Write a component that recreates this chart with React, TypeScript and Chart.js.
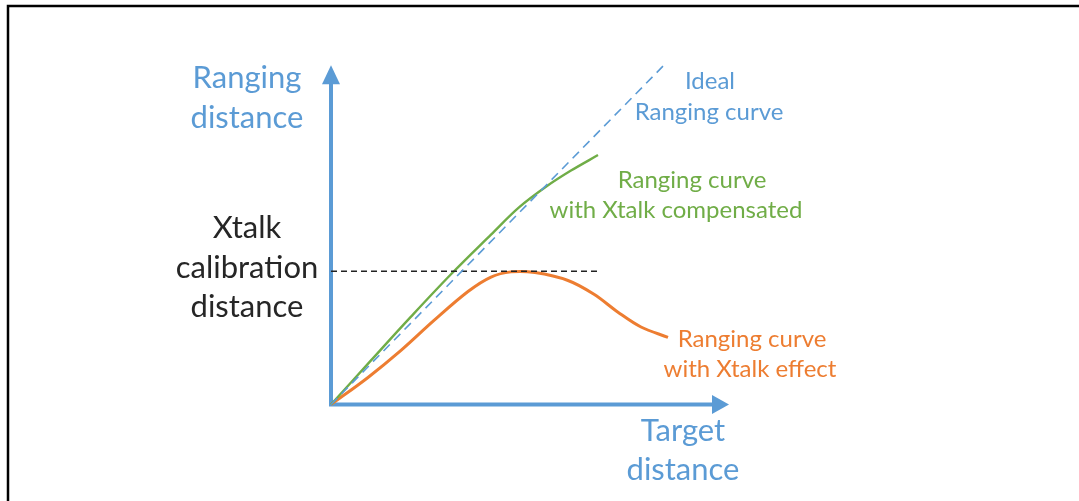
import React, { useEffect, useRef } from "react";
import { Chart, registerables } from "chart.js";

Chart.register(...registerables);

// ---- data (x: target distance, y: ranging distance; arbitrary units 0..100) ----
const idealX = [0, 84];
const idealY = [0, 99.4];
const compX = [0, 10, 20, 30, 40, 47, 54, 60, 66.75];
const compY = [0, 12.8, 25.5, 37.8, 49.3, 57.2, 63.4, 67.9, 72.4];
const effectX = [0, 9.25, 17.5, 25.75, 34.25, 40, 45, 51, 59.25, 65.75, 71.75, 77.5, 84.25];
const effectY = [0, 7.85, 15.7, 24.4, 32.8, 37.0, 38.5, 38.3, 36.0, 32.0, 26.8, 22.5, 19.5];
const calibX = [0, 67];
const calibY = [38.7, 38.7];

const yTitle = ["Ranging", "distance"];
const xTitle = ["Target", "distance"];
const calibLabel = ["Xtalk", "calibration", "distance"];
const idealLabel = ["Ideal", "Ranging curve"];
const compLabel = ["Ranging curve", "with Xtalk compensated"];
const effectLabel = ["Ranging curve", "with Xtalk effect"];

const BLUE = "#5B9BD5";
const GREEN = "#70AD47";
const ORANGE = "#ED7D31";
const DARK = "#262626";

const W = 1079;
const H = 501;

const pts = (xs: number[], ys: number[]) => xs.map((x, i) => ({ x, y: ys[i] }));

type Lbl = { lines: string[]; xs: number[]; ys: number[]; color: string; size: number };
const labels: Lbl[] = [
  { lines: yTitle, xs: [247, 247], ys: [78, 118], color: BLUE, size: 31 },
  { lines: calibLabel, xs: [247, 247, 247], ys: [228, 268, 307], color: DARK, size: 31 },
  { lines: xTitle, xs: [683, 683], ys: [431, 470], color: BLUE, size: 31 },
  { lines: idealLabel, xs: [710, 709], ys: [81, 112], color: BLUE, size: 24 },
  { lines: compLabel, xs: [692, 676], ys: [180, 210], color: GREEN, size: 24 },
  { lines: effectLabel, xs: [752, 750], ys: [339, 369], color: ORANGE, size: 24 },
];

const diagramPlugin = {
  id: "diagram",
  beforeDatasetsDraw(chart: any) {
    const ctx = chart.ctx as CanvasRenderingContext2D;
    const xs = chart.scales.x;
    const ys = chart.scales.y;
    ctx.save();
    // frame
    ctx.strokeStyle = "#000";
    ctx.lineWidth = 2.5;
    ctx.beginPath();
    ctx.moveTo(8, H);
    ctx.lineTo(8, 6);
    ctx.lineTo(W, 6);
    ctx.stroke();

    const ox = xs.getPixelForValue(0);
    const oy = ys.getPixelForValue(0);
    const xTip = xs.getPixelForValue(99.5);
    const yTip = ys.getPixelForValue(98.5);
    ctx.strokeStyle = BLUE;
    ctx.fillStyle = BLUE;
    ctx.lineWidth = 4;
    ctx.lineCap = "butt";
    ctx.beginPath();
    ctx.moveTo(ox, yTip + 12);
    ctx.lineTo(ox, oy);
    ctx.lineTo(xTip - 12, oy);
    ctx.stroke();
    // arrow heads
    ctx.beginPath();
    ctx.moveTo(ox, yTip);
    ctx.lineTo(ox - 9, yTip + 19);
    ctx.lineTo(ox + 9, yTip + 19);
    ctx.closePath();
    ctx.fill();
    ctx.beginPath();
    ctx.moveTo(xTip, oy);
    ctx.lineTo(xTip - 17, oy - 9.5);
    ctx.lineTo(xTip - 17, oy + 9.5);
    ctx.closePath();
    ctx.fill();
    ctx.restore();
  },
  afterDatasetsDraw(chart: any) {
    const ctx = chart.ctx as CanvasRenderingContext2D;
    ctx.save();
    ctx.textAlign = "center";
    ctx.textBaseline = "middle";
    for (const l of labels) {
      ctx.font = `${l.size}px Lato, "Open Sans", sans-serif`;
      ctx.fillStyle = l.color;
      l.lines.forEach((t, i) => ctx.fillText(t, l.xs[i], l.ys[i]));
    }
    ctx.restore();
  },
};

export default function App() {
  const ref = useRef<HTMLCanvasElement>(null);
  useEffect(() => {
    if (!ref.current) return;
    const chart = new Chart(ref.current, {
      type: "line",
      data: {
        datasets: [
          {
            label: "Ideal ranging curve",
            data: pts(idealX, idealY),
            borderColor: BLUE,
            borderWidth: 1.6,
            borderDash: [9, 6],
            pointRadius: 0,
            clip: false as any,
          },
          {
            label: "Xtalk calibration distance",
            data: pts(calibX, calibY),
            borderColor: "#222",
            borderWidth: 1.4,
            borderDash: [6, 4],
            pointRadius: 0,
            clip: false as any,
          },
          {
            label: "Ranging curve with Xtalk compensated",
            data: pts(compX, compY),
            borderColor: GREEN,
            borderWidth: 2.4,
            pointRadius: 0,
            tension: 0.35,
            clip: false as any,
          },
          {
            label: "Ranging curve with Xtalk effect",
            data: pts(effectX, effectY),
            borderColor: ORANGE,
            borderWidth: 3,
            pointRadius: 0,
            tension: 0.35,
            clip: false as any,
          },
        ],
      },
      options: {
        animation: false,
        responsive: false,
        devicePixelRatio: 1,
        layout: { padding: { left: 331, right: W - 731, top: 60, bottom: H - 404.5 } },
        plugins: { legend: { display: false }, tooltip: { enabled: false } },
        scales: {
          x: { type: "linear", min: 0, max: 100, display: false },
          y: { type: "linear", min: 0, max: 100, display: false },
        },
      },
      plugins: [diagramPlugin],
    });
    return () => chart.destroy();
  }, []);
  return (
    <canvas
      ref={ref}
      width={W}
      height={H}
      style={{ position: "fixed", left: 0, top: 0, width: W, height: H, background: "#fff" }}
    />
  );
}
